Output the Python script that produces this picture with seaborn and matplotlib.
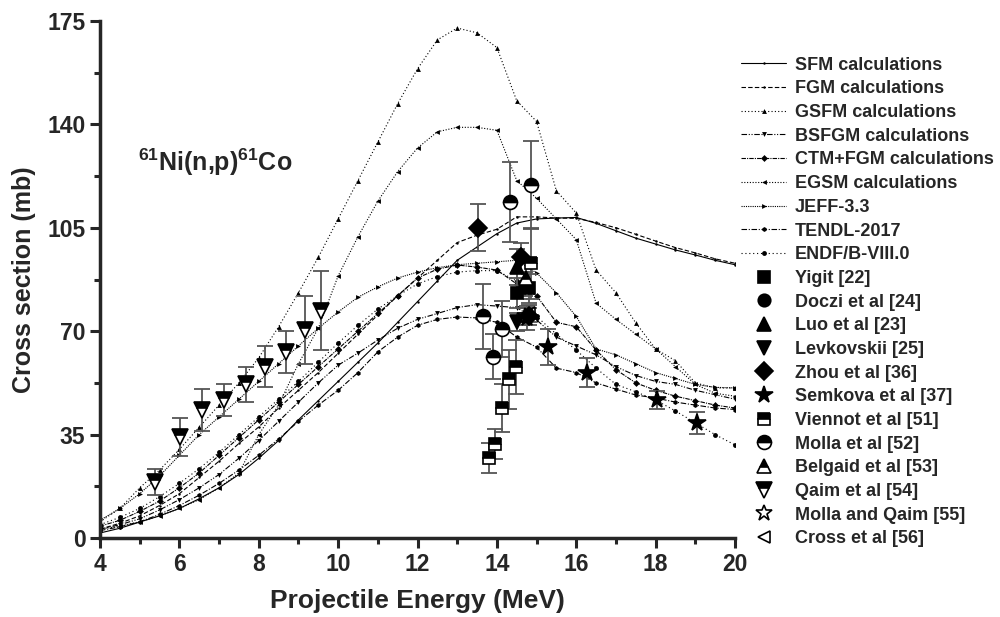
import numpy as np
import pandas as pd
import matplotlib
matplotlib.use('Agg')
import matplotlib.pyplot as plt
import seaborn as sns
from matplotlib.ticker import MultipleLocator

# 1. style
sns.set_style('ticks')
plt.rcParams['font.family'] = ['Liberation Sans', 'DejaVu Sans']
plt.rcParams['font.weight'] = 'bold'
plt.rcParams['axes.labelweight'] = 'bold'
plt.rcParams['mathtext.fontset'] = 'custom'
plt.rcParams['mathtext.rm'] = 'Liberation Sans:bold'
plt.rcParams['mathtext.it'] = 'Liberation Sans:bold'
plt.rcParams['mathtext.bf'] = 'Liberation Sans:bold'

# 2. calculated excitation functions (MeV, mb)
energy = [4, 4.5, 5, 5.5, 6, 6.5, 7, 7.5, 8, 8.5, 9, 9.5, 10, 10.5, 11, 11.5, 12,
          12.5, 13, 13.5, 14, 14.5, 15, 15.5, 16, 16.5, 17, 17.5, 18, 18.5, 19, 19.5, 20]

sfm = [1.7, 3.3, 5.4, 7.5, 10, 13.3, 17, 21.5, 27, 33, 40, 46.5, 53, 59.5, 66, 73, 80,
       87, 94, 98.5, 103, 106.6, 108, 108.3, 108.5, 106.5, 104, 101.5, 99.5, 97.5, 95.8, 94, 92.5]
fgm = [3, 5, 7.5, 11, 15, 20.5, 26, 32, 37.6, 44, 50, 56, 62.5, 69, 75.5, 82, 88,
       94, 100, 102.5, 104.5, 108.7, 108.7, 108.3, 108.2, 106.8, 105, 102.8, 100.5, 98.3, 96.5, 94.5, 93]
gsfm = [5.5, 10, 17, 23, 30, 37.5, 45, 52.5, 61, 71.5, 83, 95, 108, 121, 134, 147, 158.8,
        168.6, 172.6, 171, 166, 148, 141, 117.5, 110, 90.7, 83, 72.8, 64, 60, 52.5, 50.8, 50.8]
bsfgm = [3, 4.5, 6.5, 9.5, 13, 17, 21.5, 27, 33, 39.5, 46, 52.5, 58.5, 62.6, 67, 71, 74,
         76, 78, 79, 78.5, 78, 73.8, 68, 65, 62, 58, 55, 53, 52, 50, 48.5, 47]
ctm_fgm = [4, 6, 9, 12.5, 17, 22, 28, 34, 40, 46, 52, 58, 64, 70, 76, 82, 88,
           91, 92.4, 91.7, 90.7, 86, 82, 73, 71.5, 63.6, 57, 52.5, 50, 48, 46.5, 45, 44]
egsm = [3, 4, 5.5, 7.5, 10, 13, 17, 22, 35, 45, 59, 71, 88.7, 102, 114, 124, 132,
        137.5, 139, 139, 138, 121, 115, 108, 101, 79.5, 74, 69, 64, 58, 52, 49, 48]
jeff = [6, 10, 15, 21, 28, 35, 41, 47, 53, 59, 65, 71, 76.5, 81.5, 85, 88, 90,
        91.5, 92.5, 93, 93.5, 94, 89.7, 83, 75, 64, 62, 59, 56, 54, 52, 51, 50.8]
tendl = [2.5, 3.8, 5.5, 8, 11, 14.5, 18.5, 23, 28, 33.5, 39.5, 45, 50, 56, 63, 68, 72,
         74, 74.8, 74.5, 73, 68, 64.6, 57.5, 56, 52.5, 50.4, 48.4, 47.4, 46, 45, 44, 43.5]
endf = [4.5, 7, 10, 14, 18.5, 23.5, 29, 35, 41, 47, 53, 59.5, 66, 72, 77.5, 82, 86,
        88.5, 90, 90.5, 90.5, 87, 75, 69, 63.6, 57.5, 52, 49.5, 46.7, 43, 39, 35, 31.5]

curves = [
    ('SFM calculations', sfm, '-', '.'),
    ('FGM calculations', fgm, (0, (4, 2)), '.'),
    ('GSFM calculations', gsfm, (0, (1, 2)), '^'),
    ('BSFGM calculations', bsfgm, (0, (5, 1.5, 1, 1.5, 1, 1.5)), 'v'),
    ('CTM+FGM calculations', ctm_fgm, (0, (4, 1, 1, 1)), 'D'),
    ('EGSM calculations', egsm, (0, (1, 1.5)), '<'),
    ('JEFF-3.3', jeff, (0, (1, 1)), '>'),
    ('TENDL-2017', tendl, (0, (5, 1.5, 1, 1.5)), 'h'),
    ('ENDF/B-VIII.0', endf, (0, (1, 2.5)), 'o'),
]

# 3. experimental data (MeV, mb, +-mb)
yigit_e = [14.5, 14.8]
yigit_v = [83, 84.5]
yigit_err = [5, 5]
doczi_e = [14.7]
doczi_v = [86]
doczi_err = [4]
luo_e = [14.5]
luo_v = [91.7]
luo_err = [6]
levk_e = [14.5]
levk_v = [73]
levk_err = [3]
zhou_e = [13.53, 14.6, 14.8]
zhou_v = [105, 95, 75]
zhou_err = [8, 5, 3]
semkova_e = [14.75, 15.3, 16.27, 18.03, 19.04]
semkova_v = [74.5, 64.7, 56, 46.7, 39]
semkova_err = [4, 6, 5, 3, 3.8]
viennot_e = [13.8, 13.96, 14.13, 14.3, 14.48, 14.87]
viennot_v = [27, 31.8, 44, 53.8, 57.9, 93]
viennot_err = [5, 5, 8, 10, 9, 12]
molla_e = [13.66, 13.9, 14.13, 14.33, 14.85]
molla_v = [75, 61.3, 70.7, 113.7, 119.5]
molla_err = [11, 7.6, 9.5, 13.5, 15]
belgaid_e = [14.74]
belgaid_v = [88]
belgaid_err = [5]
qaim_e = [5.39, 6.02, 6.58, 7.13, 7.67, 8.16, 8.69, 9.17, 9.57]
qaim_v = [19, 34.2, 43.3, 46.7, 52, 58, 63, 70.4, 77]
qaim_err = [4.5, 6.5, 7, 5.5, 6, 7, 7, 11.5, 13.5]
mq_e = [14.7]
mq_v = [75]
mq_err = [3]
cross_e = [14.8]
cross_v = [76]
cross_err = [3]

exp_sets = [
    ('Yigit [22]', yigit_e, yigit_v, yigit_err, dict(marker='s', ms=8)),
    ('Doczi et al [24]', doczi_e, doczi_v, doczi_err, dict(marker='o', ms=9)),
    ('Luo et al [23]', luo_e, luo_v, luo_err, dict(marker='^', ms=10)),
    ('Levkovskii [25]', levk_e, levk_v, levk_err, dict(marker='v', ms=10)),
    ('Zhou et al [36]', zhou_e, zhou_v, zhou_err, dict(marker='D', ms=9)),
    ('Semkova et al [37]', semkova_e, semkova_v, semkova_err, dict(marker='*', ms=13)),
    ('Viennot et al [51]', viennot_e, viennot_v, viennot_err, dict(marker='s', ms=8, fillstyle='top')),
    ('Molla et al [52]', molla_e, molla_v, molla_err, dict(marker='o', ms=10, fillstyle='top')),
    ('Belgaid et al [53]', belgaid_e, belgaid_v, belgaid_err, dict(marker='^', ms=10, fillstyle='top')),
    ('Qaim et al [54]', qaim_e, qaim_v, qaim_err, dict(marker='v', ms=11, fillstyle='top')),
    ('Molla and Qaim [55]', mq_e, mq_v, mq_err, dict(marker='*', ms=12, fillstyle='none')),
    ('Cross et al [56]', cross_e, cross_v, cross_err, dict(marker='<', ms=9, fillstyle='none')),
]

# 4. plot
fig = plt.figure(figsize=(10, 6.17), dpi=100)
ax = fig.add_axes([0.1, 0.128, 0.635, 0.838])

for name, vals, ls, mk in curves:
    sns.lineplot(x=energy, y=vals, ax=ax, color='black', linewidth=0.8, linestyle=ls,
                 marker=mk, markersize=3.5, markeredgewidth=0, label=name, sort=False)

for name, e, v, err, style in exp_sets:
    ax.errorbar(e, v, yerr=err, fmt='none', ecolor='#555555', elinewidth=1.3,
                capsize=6, capthick=1.3, zorder=3)
    ax.plot(e, v, linestyle='none', color='black', mec='black', mfc='black',
            markerfacecoloralt='white', mew=1.2, zorder=4, label=name, **style)

ax.text(4.95, 127, r'$^{61}$Ni(n,p)$^{61}$Co', fontsize=18, fontweight='bold', va='center')

ax.set_xlim(4, 20)
ax.set_ylim(0, 175)
ax.xaxis.set_major_locator(MultipleLocator(2))
ax.xaxis.set_minor_locator(MultipleLocator(1))
ax.yaxis.set_major_locator(MultipleLocator(35))
ax.yaxis.set_minor_locator(MultipleLocator(17.5))
ax.tick_params(which='both', direction='out', width=2.2, labelsize=16.5)
ax.tick_params(which='major', length=7)
ax.tick_params(which='minor', length=4.5)
for lab in ax.get_xticklabels() + ax.get_yticklabels():
    lab.set_fontweight('bold')
sns.despine(ax=ax)
ax.spines['left'].set_linewidth(2.5)
ax.spines['bottom'].set_linewidth(2.5)

ax.set_xlabel('Projectile Energy (MeV)', fontsize=19, fontweight='bold', labelpad=10)
ax.set_ylabel('Cross section (mb)', fontsize=18, fontweight='bold', labelpad=8)

handles, labels = ax.get_legend_handles_labels()
ax.legend(handles, labels, loc='upper left', bbox_to_anchor=(0.741, 0.908),
          bbox_transform=fig.transFigure, frameon=False, fontsize=13,
          handlelength=2.5, handletextpad=0.5, labelspacing=0.37, numpoints=1,
          borderaxespad=0, borderpad=0)

fig.savefig('out.png', dpi=100)
